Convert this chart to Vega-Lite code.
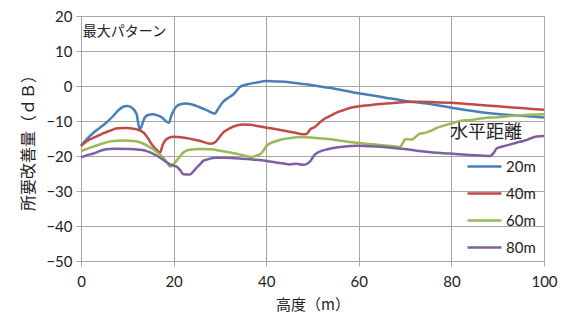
{
  "$schema": "https://vega.github.io/schema/vega-lite/v6.json",
  "width": 463,
  "height": 245,
  "autosize": {"type": "none"},
  "padding": {"left": 81, "top": 16, "right": 21, "bottom": 67},
  "background": "white",
  "config": {
    "view": {"stroke": null},
    "font": "Noto Sans CJK JP"
  },
  "datasets": {
    "lines": [
      {"h": 0, "v": -17.0, "s": "20m"}, {"h": 1, "v": -15.5, "s": "20m"}, {"h": 2, "v": -14.2, "s": "20m"}, {"h": 3, "v": -13.0, "s": "20m"}, {"h": 4, "v": -12.0, "s": "20m"}, {"h": 5, "v": -11.0, "s": "20m"}, {"h": 6, "v": -9.8, "s": "20m"}, {"h": 7, "v": -8.5, "s": "20m"}, {"h": 8, "v": -7.0, "s": "20m"}, {"h": 9, "v": -6.0, "s": "20m"}, {"h": 10, "v": -5.7, "s": "20m"}, {"h": 11, "v": -6.2, "s": "20m"}, {"h": 12, "v": -8.0, "s": "20m"}, {"h": 12.7, "v": -12.5, "s": "20m"}, {"h": 13.2, "v": -11.0, "s": "20m"}, {"h": 13.8, "v": -9.0, "s": "20m"}, {"h": 14.5, "v": -8.3, "s": "20m"}, {"h": 15.5, "v": -8.1, "s": "20m"}, {"h": 16.5, "v": -8.4, "s": "20m"}, {"h": 17.5, "v": -9.0, "s": "20m"}, {"h": 18.5, "v": -10.2, "s": "20m"}, {"h": 19, "v": -10.5, "s": "20m"}, {"h": 19.5, "v": -8.5, "s": "20m"}, {"h": 20.5, "v": -6.0, "s": "20m"}, {"h": 21.5, "v": -5.2, "s": "20m"}, {"h": 22.5, "v": -5.0, "s": "20m"}, {"h": 24, "v": -5.3, "s": "20m"}, {"h": 25.5, "v": -6.0, "s": "20m"}, {"h": 27, "v": -6.8, "s": "20m"}, {"h": 28.9, "v": -7.9, "s": "20m"}, {"h": 29.5, "v": -6.8, "s": "20m"}, {"h": 30.7, "v": -4.5, "s": "20m"}, {"h": 32, "v": -3.2, "s": "20m"}, {"h": 33, "v": -2.3, "s": "20m"}, {"h": 34.3, "v": -0.3, "s": "20m"}, {"h": 36, "v": 0.5, "s": "20m"}, {"h": 38, "v": 1.0, "s": "20m"}, {"h": 40, "v": 1.4, "s": "20m"}, {"h": 42, "v": 1.3, "s": "20m"}, {"h": 44, "v": 1.2, "s": "20m"}, {"h": 46, "v": 0.9, "s": "20m"}, {"h": 48, "v": 0.6, "s": "20m"}, {"h": 50, "v": 0.2, "s": "20m"}, {"h": 52, "v": -0.2, "s": "20m"}, {"h": 54, "v": -0.6, "s": "20m"}, {"h": 56, "v": -1.1, "s": "20m"}, {"h": 58, "v": -1.6, "s": "20m"}, {"h": 60, "v": -2.1, "s": "20m"}, {"h": 62, "v": -2.5, "s": "20m"}, {"h": 64, "v": -2.9, "s": "20m"}, {"h": 66, "v": -3.4, "s": "20m"}, {"h": 68, "v": -3.8, "s": "20m"}, {"h": 70, "v": -4.3, "s": "20m"}, {"h": 72, "v": -4.6, "s": "20m"}, {"h": 76, "v": -5.3, "s": "20m"}, {"h": 80, "v": -6.2, "s": "20m"}, {"h": 85, "v": -7.2, "s": "20m"}, {"h": 90, "v": -8.0, "s": "20m"}, {"h": 95, "v": -8.5, "s": "20m"}, {"h": 100, "v": -9.0, "s": "20m"},

      {"h": 0, "v": -17.2, "s": "40m"}, {"h": 1, "v": -16.0, "s": "40m"}, {"h": 2, "v": -15.2, "s": "40m"}, {"h": 3, "v": -14.6, "s": "40m"}, {"h": 4, "v": -14.0, "s": "40m"}, {"h": 5, "v": -13.4, "s": "40m"}, {"h": 6, "v": -12.9, "s": "40m"}, {"h": 7, "v": -12.4, "s": "40m"}, {"h": 8, "v": -12.1, "s": "40m"}, {"h": 10, "v": -12.0, "s": "40m"}, {"h": 11.3, "v": -12.2, "s": "40m"}, {"h": 12.5, "v": -12.6, "s": "40m"}, {"h": 13.5, "v": -13.3, "s": "40m"}, {"h": 14.5, "v": -15.0, "s": "40m"}, {"h": 15.3, "v": -16.7, "s": "40m"}, {"h": 16.3, "v": -18.2, "s": "40m"}, {"h": 17.1, "v": -19.0, "s": "40m"}, {"h": 17.6, "v": -17.0, "s": "40m"}, {"h": 18.1, "v": -15.7, "s": "40m"}, {"h": 19, "v": -14.8, "s": "40m"}, {"h": 20, "v": -14.5, "s": "40m"}, {"h": 22, "v": -14.7, "s": "40m"}, {"h": 24, "v": -15.2, "s": "40m"}, {"h": 26, "v": -15.8, "s": "40m"}, {"h": 27.9, "v": -16.5, "s": "40m"}, {"h": 28.9, "v": -16.1, "s": "40m"}, {"h": 29.8, "v": -14.8, "s": "40m"}, {"h": 30.7, "v": -13.3, "s": "40m"}, {"h": 32, "v": -12.2, "s": "40m"}, {"h": 33.6, "v": -11.3, "s": "40m"}, {"h": 35, "v": -11.0, "s": "40m"}, {"h": 36.5, "v": -11.1, "s": "40m"}, {"h": 38, "v": -11.4, "s": "40m"}, {"h": 40, "v": -11.9, "s": "40m"}, {"h": 42, "v": -12.3, "s": "40m"}, {"h": 44, "v": -12.8, "s": "40m"}, {"h": 46, "v": -13.3, "s": "40m"}, {"h": 48, "v": -13.8, "s": "40m"}, {"h": 48.7, "v": -13.7, "s": "40m"}, {"h": 49.5, "v": -12.4, "s": "40m"}, {"h": 50.5, "v": -11.7, "s": "40m"}, {"h": 51.5, "v": -10.5, "s": "40m"}, {"h": 52.7, "v": -9.3, "s": "40m"}, {"h": 54, "v": -8.4, "s": "40m"}, {"h": 55.2, "v": -7.6, "s": "40m"}, {"h": 56.5, "v": -7.0, "s": "40m"}, {"h": 58, "v": -6.3, "s": "40m"}, {"h": 60, "v": -5.8, "s": "40m"}, {"h": 62, "v": -5.5, "s": "40m"}, {"h": 64, "v": -5.2, "s": "40m"}, {"h": 66, "v": -5.0, "s": "40m"}, {"h": 68, "v": -4.8, "s": "40m"}, {"h": 70, "v": -4.6, "s": "40m"}, {"h": 73, "v": -4.5, "s": "40m"}, {"h": 76, "v": -4.6, "s": "40m"}, {"h": 80, "v": -4.8, "s": "40m"}, {"h": 85, "v": -5.3, "s": "40m"}, {"h": 90, "v": -5.8, "s": "40m"}, {"h": 95, "v": -6.3, "s": "40m"}, {"h": 100, "v": -6.8, "s": "40m"},

      {"h": 0, "v": -18.6, "s": "60m"}, {"h": 2, "v": -17.6, "s": "60m"}, {"h": 4, "v": -16.7, "s": "60m"}, {"h": 5.5, "v": -16.1, "s": "60m"}, {"h": 7, "v": -15.7, "s": "60m"}, {"h": 9, "v": -15.6, "s": "60m"}, {"h": 11.3, "v": -15.7, "s": "60m"}, {"h": 12.5, "v": -16.0, "s": "60m"}, {"h": 13.5, "v": -16.5, "s": "60m"}, {"h": 14.5, "v": -17.2, "s": "60m"}, {"h": 15.6, "v": -18.1, "s": "60m"}, {"h": 16.7, "v": -19.3, "s": "60m"}, {"h": 17.8, "v": -20.5, "s": "60m"}, {"h": 18.5, "v": -21.8, "s": "60m"}, {"h": 19.2, "v": -23.0, "s": "60m"}, {"h": 19.8, "v": -22.5, "s": "60m"}, {"h": 20.3, "v": -21.9, "s": "60m"}, {"h": 21.2, "v": -20.4, "s": "60m"}, {"h": 22.1, "v": -19.0, "s": "60m"}, {"h": 23.5, "v": -18.2, "s": "60m"}, {"h": 25.7, "v": -18.0, "s": "60m"}, {"h": 27.9, "v": -18.1, "s": "60m"}, {"h": 30, "v": -18.5, "s": "60m"}, {"h": 32.2, "v": -19.0, "s": "60m"}, {"h": 34.5, "v": -19.6, "s": "60m"}, {"h": 36.9, "v": -20.3, "s": "60m"}, {"h": 38, "v": -19.8, "s": "60m"}, {"h": 38.7, "v": -19.5, "s": "60m"}, {"h": 39.4, "v": -18.5, "s": "60m"}, {"h": 40.1, "v": -17.1, "s": "60m"}, {"h": 41, "v": -16.3, "s": "60m"}, {"h": 42.3, "v": -15.7, "s": "60m"}, {"h": 43.5, "v": -15.2, "s": "60m"}, {"h": 45.1, "v": -14.9, "s": "60m"}, {"h": 47.3, "v": -14.6, "s": "60m"}, {"h": 49.5, "v": -14.7, "s": "60m"}, {"h": 52, "v": -15.0, "s": "60m"}, {"h": 55, "v": -15.4, "s": "60m"}, {"h": 58.1, "v": -16.0, "s": "60m"}, {"h": 61, "v": -16.4, "s": "60m"}, {"h": 64, "v": -16.8, "s": "60m"}, {"h": 66.5, "v": -17.1, "s": "60m"}, {"h": 68.9, "v": -17.4, "s": "60m"}, {"h": 69.5, "v": -16.3, "s": "60m"}, {"h": 70, "v": -15.2, "s": "60m"}, {"h": 71.5, "v": -15.3, "s": "60m"}, {"h": 72.3, "v": -14.5, "s": "60m"}, {"h": 73.2, "v": -13.6, "s": "60m"}, {"h": 74.3, "v": -13.4, "s": "60m"}, {"h": 75.4, "v": -12.9, "s": "60m"}, {"h": 76.8, "v": -12.0, "s": "60m"}, {"h": 78.2, "v": -11.4, "s": "60m"}, {"h": 80, "v": -10.7, "s": "60m"}, {"h": 81.9, "v": -10.0, "s": "60m"}, {"h": 84, "v": -9.7, "s": "60m"}, {"h": 86.9, "v": -9.2, "s": "60m"}, {"h": 90, "v": -8.9, "s": "60m"}, {"h": 92.7, "v": -8.6, "s": "60m"}, {"h": 96, "v": -8.3, "s": "60m"}, {"h": 100, "v": -8.1, "s": "60m"},

      {"h": 0, "v": -20.4, "s": "80m"}, {"h": 1, "v": -19.9, "s": "80m"}, {"h": 2.7, "v": -19.3, "s": "80m"}, {"h": 4, "v": -18.6, "s": "80m"}, {"h": 5.5, "v": -18.1, "s": "80m"}, {"h": 7, "v": -17.9, "s": "80m"}, {"h": 10.6, "v": -18.0, "s": "80m"}, {"h": 12.5, "v": -18.2, "s": "80m"}, {"h": 14.2, "v": -18.6, "s": "80m"}, {"h": 15.5, "v": -19.3, "s": "80m"}, {"h": 17.1, "v": -20.5, "s": "80m"}, {"h": 18.2, "v": -21.5, "s": "80m"}, {"h": 19.2, "v": -22.4, "s": "80m"}, {"h": 20.7, "v": -23.1, "s": "80m"}, {"h": 21.5, "v": -24.2, "s": "80m"}, {"h": 22.1, "v": -25.2, "s": "80m"}, {"h": 23.5, "v": -25.3, "s": "80m"}, {"h": 24.2, "v": -24.5, "s": "80m"}, {"h": 25, "v": -23.3, "s": "80m"}, {"h": 25.7, "v": -22.4, "s": "80m"}, {"h": 26.4, "v": -21.4, "s": "80m"}, {"h": 27.5, "v": -20.9, "s": "80m"}, {"h": 29.3, "v": -20.5, "s": "80m"}, {"h": 31, "v": -20.5, "s": "80m"}, {"h": 34.3, "v": -20.7, "s": "80m"}, {"h": 37, "v": -21.0, "s": "80m"}, {"h": 40.1, "v": -21.4, "s": "80m"}, {"h": 42.5, "v": -21.9, "s": "80m"}, {"h": 45.1, "v": -22.4, "s": "80m"}, {"h": 46.5, "v": -22.2, "s": "80m"}, {"h": 48, "v": -22.5, "s": "80m"}, {"h": 48.7, "v": -22.3, "s": "80m"}, {"h": 49.5, "v": -21.5, "s": "80m"}, {"h": 50.5, "v": -19.6, "s": "80m"}, {"h": 52.3, "v": -18.4, "s": "80m"}, {"h": 53.5, "v": -18.0, "s": "80m"}, {"h": 55.2, "v": -17.6, "s": "80m"}, {"h": 57, "v": -17.3, "s": "80m"}, {"h": 59.5, "v": -17.1, "s": "80m"}, {"h": 62, "v": -17.2, "s": "80m"}, {"h": 65.3, "v": -17.4, "s": "80m"}, {"h": 68, "v": -17.8, "s": "80m"}, {"h": 71.1, "v": -18.2, "s": "80m"}, {"h": 73.2, "v": -18.6, "s": "80m"}, {"h": 76, "v": -19.0, "s": "80m"}, {"h": 79.7, "v": -19.3, "s": "80m"}, {"h": 84, "v": -19.7, "s": "80m"}, {"h": 88.3, "v": -20.0, "s": "80m"}, {"h": 89.2, "v": -19.0, "s": "80m"}, {"h": 89.8, "v": -17.8, "s": "80m"}, {"h": 91, "v": -17.3, "s": "80m"}, {"h": 92.7, "v": -16.7, "s": "80m"}, {"h": 94, "v": -16.2, "s": "80m"}, {"h": 95.5, "v": -15.7, "s": "80m"}, {"h": 96.3, "v": -15.4, "s": "80m"}, {"h": 97, "v": -15.0, "s": "80m"}, {"h": 98.5, "v": -14.4, "s": "80m"}, {"h": 100, "v": -14.3, "s": "80m"}
    ],
    "note": [{"h": 0.4, "v": 15.4, "label": "最大パターン"}]
  },
  "layer": [
    {
      "data": {"name": "lines"},
      "mark": {"type": "line", "strokeWidth": 2.5, "interpolate": "monotone"},
      "encoding": {
        "x": {
          "field": "h", "type": "quantitative",
          "scale": {"domain": [0, 100], "nice": false},
          "axis": {
            "title": "高度（m）",
            "values": [0, 20, 40, 60, 80, 100],
            "tickCount": 20,
            "labelOverlap": false, "labelFlush": false, "labelBound": false,
            "grid": true, "gridColor": "#A6A6A6", "gridWidth": 1,
            "domainColor": "#A6A6A6", "tickColor": "#A6A6A6", "tickSize": 5,
            "labelFont": "Lato", "labelFontSize": 15, "labelColor": "#222222", "labelPadding": 8,
            "titleFont": "Noto Sans CJK JP", "titleFontSize": 15, "titleFontWeight": "normal", "titleColor": "#222222", "titlePadding": 8
          }
        },
        "y": {
          "field": "v", "type": "quantitative",
          "scale": {"domain": [-50, 20], "nice": false},
          "axis": {
            "title": "所要改善量（ｄＢ）",
            "values": [-50, -40, -30, -20, -10, 0, 10, 20],
            "tickCount": 20,
            "labelOverlap": false, "labelFlush": false, "labelBound": false,
            "grid": true, "gridColor": "#A6A6A6", "gridWidth": 1,
            "domainColor": "#A6A6A6", "tickColor": "#A6A6A6", "tickSize": 5,
            "labelFont": "Lato", "labelFontSize": 15, "labelColor": "#222222", "labelPadding": 4,
            "titleFont": "Noto Sans CJK JP", "titleFontSize": 16, "titleFontWeight": "normal", "titleColor": "#222222", "titlePadding": 9
          }
        },
        "color": {
          "field": "s", "type": "nominal",
          "scale": {"domain": ["20m", "40m", "60m", "80m"], "range": ["#4A7EBB", "#BE4B48", "#98B954", "#7D60A0"]},
          "legend": {
            "title": "水平距離",
            "orient": "none",
            "legendX": 369,
            "legendY": 108,
            "titleFont": "Noto Sans CJK JP", "titleFontSize": 18, "titleFontWeight": "normal", "titleColor": "#222222", "titlePadding": 6,
            "symbolType": "stroke", "symbolSize": 1156, "symbolStrokeWidth": 2.5, "symbolOffset": 16,
            "labelFont": "Lato", "labelFontSize": 15, "labelColor": "#222222", "labelOffset": 3,
            "rowPadding": -5
          }
        }
      }
    },
    {
      "data": {"name": "note"},
      "mark": {"type": "text", "align": "left", "baseline": "middle", "font": "Noto Sans CJK JP", "fontSize": 14, "color": "#222222"},
      "encoding": {
        "x": {"field": "h", "type": "quantitative"},
        "y": {"field": "v", "type": "quantitative"},
        "text": {"field": "label"}
      }
    }
  ]
}
